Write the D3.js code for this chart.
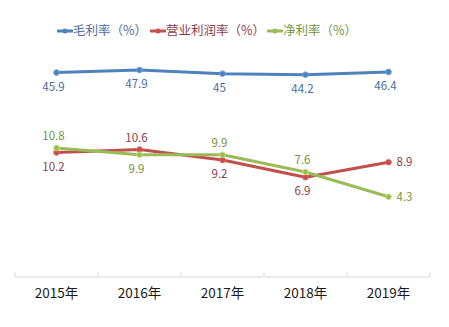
<!DOCTYPE html>
<html><head><meta charset="utf-8">
<script src="https://cdn.jsdelivr.net/npm/d3@7"></script>
<style>body{margin:0;background:#fff}svg{display:block}text{font-family:"Noto Sans CJK SC","Noto Sans",sans-serif}</style>
</head><body>
<svg id="c" width="449" height="327"></svg>
<script>
const categories = ["2015年","2016年","2017年","2018年","2019年"];
const grossMargin = [45.9,47.9,45,44.2,46.4];
const operatingMargin = [10.2,10.6,9.2,6.9,8.9];
const netMargin = [10.8,9.9,9.9,7.6,4.3];
const seriesNames = ["毛利率（%）","营业利润率（%）","净利率（%）"];
// label placement per point: "below"/"above"/"right"
const opLabelPos = ["below","above","below","below","right"];
const netLabelPos = ["above","below","above","above","right"];

const svg = d3.select("#c");
const x = d3.scaleBand().domain(categories).range([15,430]);
const cx = d => x(d) + x.bandwidth()/2;
const yPrimary = d3.scaleLinear().domain([44.2,47.9]).range([74.7,70]);
const ySecondary = d3.scaleLinear().domain([0,10]).range([229,154]);

const colors = ["#4F81BD","#C0504D","#9BBB59"];
const labelColors = ["#4A6E9C","#8E3B50","#77933C"];

// axis
const axisY = 276.5;
const xAxis = d3.axisBottom(x).tickSizeInner(0).tickSizeOuter(0).tickPadding(12);
const ax = svg.append("g").attr("transform",`translate(0,${axisY})`).call(xAxis);
ax.select(".domain").attr("stroke","#d9d9d9").attr("stroke-width",1.2);
ax.selectAll("text").attr("font-size",13.5).attr("fill","#1a1a1a");
const edges = [15].concat(categories.map(c=>x(c)+x.bandwidth()));
svg.append("g").selectAll("line").data(edges).join("line")
  .attr("x1",d=>d).attr("x2",d=>d).attr("y1",axisY-4).attr("y2",axisY)
  .attr("stroke","#d9d9d9").attr("stroke-width",1.2);

function drawSeries(vals, yScale, i, posArr){
  const g = svg.append("g");
  const line = d3.line().x((d,k)=>cx(categories[k])).y(d=>yScale(d));
  g.append("path").datum(vals).attr("d",line).attr("fill","none")
    .attr("stroke",colors[i]).attr("stroke-width",3).attr("stroke-linejoin","round");
  g.selectAll("circle").data(vals).join("circle")
    .attr("cx",(d,k)=>cx(categories[k])).attr("cy",d=>yScale(d)).attr("r",2.8)
    .attr("fill",colors[i]).attr("stroke",d3.color(colors[i]).brighter(0.6)).attr("stroke-width",1);
  g.selectAll("text").data(vals).join("text")
    .attr("x",(d,k)=> posArr[k]==="right" ? cx(categories[k])+8 : cx(categories[k])-3)
    .attr("y",(d,k)=> posArr[k]==="above" ? yScale(d)-12 : posArr[k]==="right" ? yScale(d) : yScale(d)+14)
    .attr("dy","0.35em")
    .attr("text-anchor",(d,k)=> posArr[k]==="right" ? "start":"middle")
    .attr("font-size",11.5).attr("fill",labelColors[i]).text(d=>d);
}
drawSeries(grossMargin, yPrimary, 0, ["below","below","below","below","below"]);
drawSeries(operatingMargin, ySecondary, 1, opLabelPos);
drawSeries(netMargin, ySecondary, 2, netLabelPos);

// legend
const legendX = [57,150,267];
const lg = svg.append("g").selectAll("g").data(seriesNames).join("g")
  .attr("transform",(d,i)=>`translate(${legendX[i]},31)`);
lg.append("line").attr("x1",0).attr("x2",16).attr("stroke",(d,i)=>colors[i]).attr("stroke-width",3);
lg.append("circle").attr("cx",8).attr("r",2.5).attr("fill",(d,i)=>colors[i]);
lg.append("text").attr("x",16).attr("dy","0.35em").attr("font-size",12.5)
  .attr("fill",(d,i)=>labelColors[i]).text(d=>d);
</script>
</body></html>
